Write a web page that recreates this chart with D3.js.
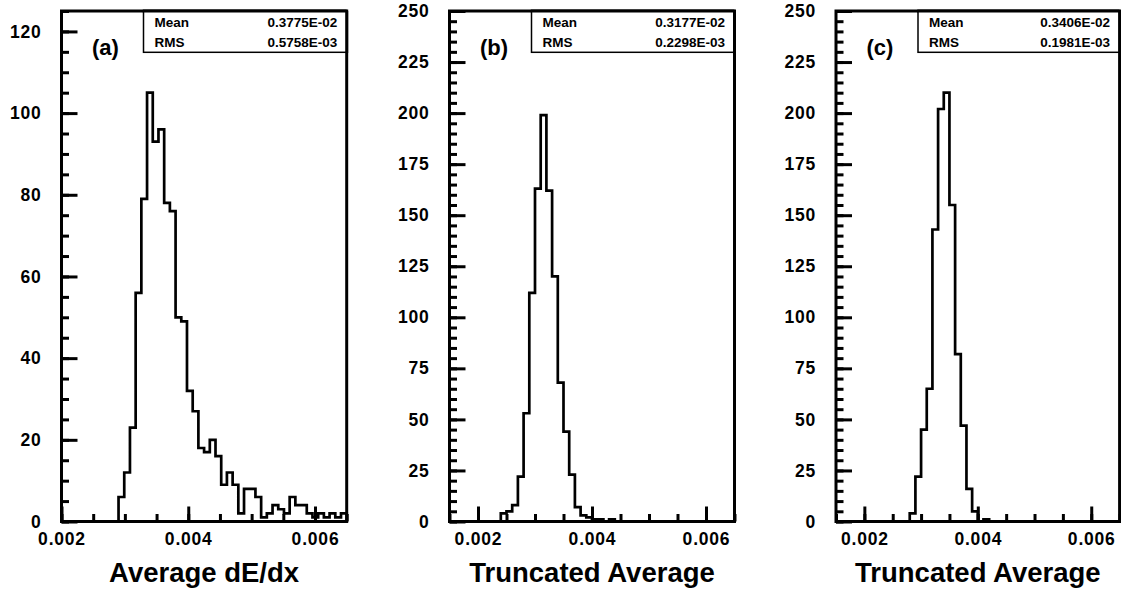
<!DOCTYPE html>
<html><head><meta charset="utf-8">
<script src="https://cdn.jsdelivr.net/npm/d3@7"></script>
<style>
html,body{margin:0;padding:0;background:#fff;}
svg{display:block;}
text{font-family:"Liberation Sans",Arial,Helvetica,sans-serif;font-weight:bold;fill:#000;}
</style></head><body>
<svg id="chart" width="1121" height="590"></svg>
<script>
// ---------------- data ----------------
const panelLabels = ["(a)", "(b)", "(c)"];
const axisTitles = ["Average dE/dx", "Truncated Average", "Truncated Average"];
const xRangeA = [0.002, 0.0065];
const xRangeBC = [0.0015, 0.0065];
const yMaxA = 125;
const yMaxBC = 250;
// 50 bins per histogram
const countsA = [0,0,0,0,0,0,0,0,0,0,
                 6,12,23,56,79,105,93,96,78,76,
                 50,49,32,27,18,17,20,16,9,12,
                 9,2,8,8,6,1,2,4,3,2,
                 6,4,4,2,1,2,1,2,1,2];
const countsB = [0,0,0,0,0,0,0,0,0,4,
                 5,8,22,53,112,163,199,162,120,68,
                 44,23,7,3,2,1,1,0,1,0,
                 0,0,0,0,0,0,0,0,0,0,
                 0,0,0,0,0,0,0,0,0,0];
const countsC = [0,0,0,0,0,0,0,0,0,0,
                 0,0,0,4,22,45,65,143,202,210,
                 155,82,47,16,5,0,1,0,0,0,
                 0,0,0,0,0,0,0,0,0,0,
                 0,0,0,0,0,0,0,0,0,0];
const yMajorA = [0, 20, 40, 60, 80, 100, 120];
const yMajorBC = [0, 25, 50, 75, 100, 125, 150, 175, 200, 225, 250];
const yMinorStep = 5;
const xMajor = [0.002, 0.004, 0.006];
const xMajorLabels = ["0.002", "0.004", "0.006"];
const xMinorStep = 0.0005;
const statNames = ["Mean", "RMS"];
const statsA = ["0.3775E-02", "0.5758E-03"];
const statsB = ["0.3177E-02", "0.2298E-03"];
const statsC = ["0.3406E-02", "0.1981E-03"];

// ---------------- layout ----------------
const panels = [
  {label: panelLabels[0], title: axisTitles[0], range: xRangeA, ymax: yMaxA, counts: countsA, yMajor: yMajorA, stats: statsA, left: 61.5, right: 346.7},
  {label: panelLabels[1], title: axisTitles[1], range: xRangeBC, ymax: yMaxBC, counts: countsB, yMajor: yMajorBC, stats: statsB, left: 449.5, right: 734.5},
  {label: panelLabels[2], title: axisTitles[2], range: xRangeBC, ymax: yMaxBC, counts: countsC, yMajor: yMajorBC, stats: statsC, left: 836, right: 1119.6}
];
const plotTop = 11, plotBottom = 521.5;
const SW = 3;
const svg = d3.select("#chart");

panels.forEach(p => {
  const x = d3.scaleLinear().domain(p.range).range([p.left, p.right]);
  const y = d3.scaleLinear().domain([0, p.ymax]).range([plotBottom, plotTop]);
  const g = svg.append("g");

  // histogram outline
  const n = p.counts.length;
  const w = (p.range[1] - p.range[0]) / n;
  const path = d3.path();
  path.moveTo(x(p.range[0]), y(0));
  p.counts.forEach((c, k) => {
    path.lineTo(x(p.range[0] + k * w), y(c));
    path.lineTo(x(p.range[0] + (k + 1) * w), y(c));
  });
  path.lineTo(x(p.range[1]), y(0));
  g.append("path").attr("d", path.toString())
    .attr("fill", "none").attr("stroke", "#000").attr("stroke-width", 2.7)
    .attr("stroke-linejoin", "miter");

  // y minor ticks
  const yMinor = d3.range(0, p.ymax + 1e-9, yMinorStep);
  g.append("g").attr("transform", `translate(${p.left},0)`)
    .call(d3.axisLeft(y).tickValues(yMinor).tickSize(-7.5).tickFormat(""))
    .call(s => s.select(".domain").remove())
    .call(s => s.selectAll("line").attr("stroke-width", SW));
  // y major ticks + labels
  g.append("g").attr("transform", `translate(${p.left},0)`)
    .call(d3.axisLeft(y).tickValues(p.yMajor).tickSize(-16).tickPadding(20).tickFormat(d3.format("d")))
    .call(s => s.select(".domain").remove())
    .call(s => s.selectAll("line").attr("stroke-width", SW))
    .call(s => s.selectAll("text").attr("font-size", 17.5).style("letter-spacing", "0.8px")
      .attr("font-family", null).attr("fill", "#000"));

  // x minor ticks
  const xMinor = d3.range(p.range[0], p.range[1] + 1e-9, xMinorStep);
  g.append("g").attr("transform", `translate(0,${plotBottom})`)
    .call(d3.axisBottom(x).tickValues(xMinor).tickSize(-7.5).tickFormat(""))
    .call(s => s.select(".domain").remove())
    .call(s => s.selectAll("line").attr("stroke-width", SW));
  // x major ticks + labels
  g.append("g").attr("transform", `translate(0,${plotBottom})`)
    .call(d3.axisBottom(x).tickValues(xMajor).tickSize(-15).tickPadding(11)
      .tickFormat((d, i) => xMajorLabels[i]))
    .call(s => s.select(".domain").remove())
    .call(s => s.selectAll("line").attr("stroke-width", SW))
    .call(s => s.selectAll("text").attr("font-size", 17.5).style("letter-spacing", "0.8px")
      .attr("font-family", null).attr("fill", "#000"));

  // frame
  g.append("rect").attr("x", p.left).attr("y", plotTop)
    .attr("width", p.right - p.left).attr("height", plotBottom - plotTop)
    .attr("fill", "none").attr("stroke", "#000").attr("stroke-width", SW);

  // stats box
  const bx = p.left + 82;
  g.append("rect").attr("x", bx).attr("y", plotTop)
    .attr("width", p.right - bx).attr("height", 52.3 - plotTop)
    .attr("fill", "#fff").attr("stroke", "#000").attr("stroke-width", 1.5);
  g.append("line").attr("x1", bx - 0.75).attr("x2", p.right).attr("y1", plotTop).attr("y2", plotTop)
    .attr("stroke", "#000").attr("stroke-width", SW);
  g.append("line").attr("x1", p.right).attr("x2", p.right).attr("y1", plotTop).attr("y2", 53)
    .attr("stroke", "#000").attr("stroke-width", SW);
  [27.3, 46.7].forEach((by, j) => {
    g.append("text").attr("x", bx + 11).attr("y", by).attr("font-size", 13.5).text(statNames[j]);
    g.append("text").attr("x", p.right - 9.5).attr("y", by).attr("font-size", 13.5)
      .attr("text-anchor", "end").text(p.stats[j]);
  });

  // panel label
  g.append("text").attr("x", p.left + 30.5).attr("y", 55).attr("font-size", 22).text(p.label);

  // axis title
  g.append("text").attr("x", (p.left + p.right) / 2).attr("y", 582)
    .attr("text-anchor", "middle").attr("font-size", 27.5).text(p.title);
});
</script>
</body></html>
